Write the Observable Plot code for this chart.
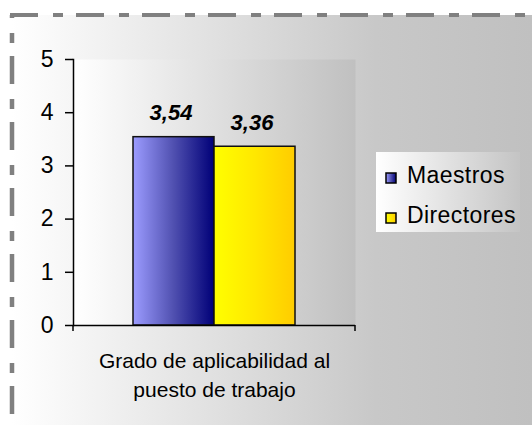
<!DOCTYPE html>
<html>
<head>
<meta charset="utf-8">
<script src="https://cdn.jsdelivr.net/npm/d3@7"></script>
<script src="https://cdn.jsdelivr.net/npm/@observablehq/plot@0.6"></script>
<style>
  html, body { margin: 0; padding: 0; background: #fff; }
  #chart { width: 532px; height: 425px; }
  #chart svg { display: block; }
</style>
</head>
<body>
<div id="chart"></div>
<script>
// Category, series and values of the chart
const categories = ["Grado de aplicabilidad al\npuesto de trabajo"];
const series = ["Maestros", "Directores"];
const values = [3.54, 3.36];
const valueLabels = ["3,54", "3,36"];
const yTicks = [0, 1, 2, 3, 4, 5];

// Horizontal gradient stops for each series fill
const seriesGradients = [
  ["#9c9cff", "#5050b0", "#000078"],
  ["#ffff00", "#ffe800", "#ffcc00"]
];

const data = series.map((s, i) => ({series: s, value: values[i], label: valueLabels[i]}));

const W = 532, H = 425;
const M = {top: 59, right: 177, bottom: 100, left: 73};
const FONT = "'Liberation Sans', Arial, Helvetica, sans-serif";
const gradId = s => "grad-" + s;

// Gradients, outer background and dashed border
function backdrop() {
  const g = d3.create("svg:g");
  const defs = g.append("defs");
  const lin = (id, stops) => {
    const lg = defs.append("linearGradient").attr("id", id)
      .attr("x1", 0).attr("y1", 0).attr("x2", 1).attr("y2", 0);
    stops.forEach(([o, c]) => lg.append("stop").attr("offset", o).attr("stop-color", c));
  };
  lin("grad-outer", [[0, "#ffffff"], [0.7, "#c8c8c8"], [1, "#c0c0c0"]]);
  lin("grad-plot", [[0, "#ffffff"], [1, "#c0c0c0"]]);
  lin("grad-legend", [[0, "#ffffff"], [1, "#c4c4c4"]]);
  series.forEach((s, i) => {
    const st = seriesGradients[i];
    lin(gradId(s), st.map((c, k) => [k / (st.length - 1), c]));
  });
  g.append("rect").attr("x", 12).attr("y", 15).attr("width", W - 12).attr("height", H - 15)
    .attr("fill", "url(#grad-outer)");
  g.append("line").attr("x1", 10).attr("x2", W).attr("y1", 15).attr("y2", 15)
    .attr("stroke", "#808080").attr("stroke-width", 4)
    .attr("stroke-dasharray", "28 15 10 13");
  g.append("line").attr("x1", 12).attr("x2", 12).attr("y1", 15).attr("y2", H)
    .attr("stroke", "#808080").attr("stroke-width", 4.5)
    .attr("stroke-dasharray", "28 15 10 13").attr("stroke-dashoffset", 25);
  return g.node();
}

// Small end ticks below the category axis
function categoryTicks() {
  const g = d3.create("svg:g").attr("stroke", "#000").attr("stroke-width", 1.5);
  [M.left, W - M.right].forEach(x => {
    g.append("line").attr("x1", x).attr("x2", x).attr("y1", H - M.bottom).attr("y2", H - M.bottom + 6);
  });
  return g.node();
}

// Legend box with swatches
function legend() {
  const g = d3.create("svg:g").attr("text-anchor", "start");
  g.append("rect").attr("x", 376).attr("y", 152).attr("width", 144).attr("height", 80)
    .attr("fill", "url(#grad-legend)");
  series.forEach((s, i) => {
    const y = 183 + i * 40;
    g.append("rect").attr("x", 386).attr("y", y - 10).attr("width", 10).attr("height", 10)
      .attr("fill", `url(#${gradId(s)})`).attr("stroke", "#000").attr("stroke-width", 1.5);
    g.append("text").attr("x", 407).attr("y", y).attr("font-size", 23)
      .attr("letter-spacing", "0.4px").attr("text-anchor", "start")
      .attr("font-family", FONT).attr("fill", "#000").text(s);
  });
  return g.node();
}

const chart = Plot.plot({
  width: W,
  height: H,
  marginTop: M.top,
  marginRight: M.right,
  marginBottom: M.bottom,
  marginLeft: M.left,
  style: {fontFamily: FONT, fontSize: "23px", color: "#000", background: "#fff"},
  x: {type: "band", domain: series, paddingInner: 0, paddingOuter: 0.74, axis: null},
  y: {domain: [0, 5], axis: null},
  color: {type: "ordinal", domain: series, range: series.map(s => `url(#${gradId(s)})`)},
  marks: [
    backdrop,
    Plot.frame({fill: "url(#grad-plot)", stroke: "none"}),
    Plot.barY(data, {x: "series", y: "value", fill: "series", stroke: "#111", strokeWidth: 1.5}),
    Plot.text(data, {
      x: "series", y: "value", text: "label", dy: -17, dx: -3, lineAnchor: "bottom",
      fontSize: 22, fontWeight: "bold", fontStyle: "italic", fill: "#000"
    }),
    Plot.axisY(yTicks, {
      anchor: "left", tickSize: 8, tickPadding: 12, fontSize: 23, label: null,
      stroke: "#000", strokeWidth: 1.5, tickFormat: d => String(d)
    }),
    Plot.frame({anchor: "left", stroke: "#000", strokeWidth: 1.5}),
    Plot.ruleY([0], {stroke: "#000", strokeWidth: 1.5}),
    categoryTicks,
    Plot.text(categories, {
      frameAnchor: "bottom", dy: 22, lineAnchor: "top", lineHeight: 1.38,
      fontSize: 21, fill: "#000", text: d => d
    }),
    legend
  ]
});

document.getElementById("chart").append(chart);
</script>
</body>
</html>
